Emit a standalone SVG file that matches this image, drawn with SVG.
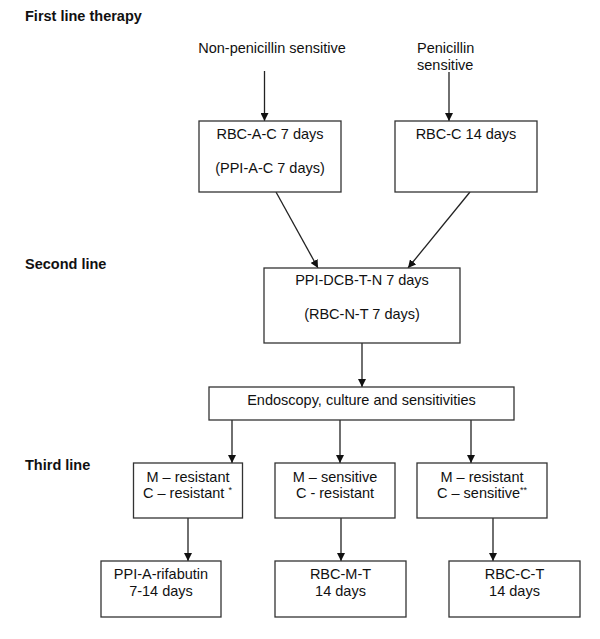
<svg xmlns="http://www.w3.org/2000/svg" width="600" height="639" viewBox="0 0 600 639">
<defs>
<marker id="arr" viewBox="0 0 10 10" refX="10" refY="5" markerWidth="8" markerHeight="8" markerUnits="userSpaceOnUse" orient="auto">
<path d="M0,0 L10,5 L0,10 z" fill="#111"/>
</marker>
<style>
text{font-family:"Liberation Sans",Arial,sans-serif;font-size:14.5px;fill:#111}
.h{font-weight:bold;font-size:14.5px}
.c{text-anchor:middle}
rect{fill:#fff;stroke:#333;stroke-width:1.3}
.con line{stroke:#222;stroke-width:1.3;marker-end:url(#arr)}
.sup{font-size:9px}
</style>
</defs>
<rect x="0" y="0" width="600" height="639" style="stroke:none;fill:#fff"/>
<text class="h" x="25" y="21">First line therapy</text>
<text class="h" x="25" y="269">Second line</text>
<text class="h" x="25" y="470">Third line</text>
<g id="src1"><text class="c" x="272" y="53">Non-penicillin sensitive</text></g>
<g id="src2"><text x="417" y="53">Penicillin</text><text x="417" y="70">sensitive</text></g>
<g class="con">
<line x1="264.5" y1="71" x2="264.5" y2="121"/>
<line x1="449" y1="72" x2="449" y2="121"/>
<line x1="276" y1="192" x2="318" y2="268"/>
<line x1="470" y1="192" x2="408" y2="268"/>
<line x1="362" y1="343" x2="362" y2="387"/>
<line x1="232" y1="420" x2="232" y2="463"/>
<line x1="340" y1="420" x2="340" y2="463"/>
<line x1="471" y1="420" x2="471" y2="463"/>
<line x1="188" y1="518" x2="188" y2="561"/>
<line x1="341" y1="518" x2="341" y2="561"/>
<line x1="493" y1="518" x2="493" y2="561"/>
</g>
<g id="n1"><rect x="199" y="121" width="142" height="71"/><text class="c" x="270" y="139">RBC-A-C 7 days</text><text class="c" x="270" y="173">(PPI-A-C 7 days)</text></g>
<g id="n2"><rect x="395" y="121" width="142" height="71"/><text class="c" x="466" y="139">RBC-C 14 days</text></g>
<g id="n3"><rect x="264" y="268" width="196" height="75"/><text class="c" x="362" y="285">PPI-DCB-T-N 7 days</text><text class="c" x="362" y="319">(RBC-N-T 7 days)</text></g>
<g id="n4"><rect x="209" y="387" width="305" height="33"/><text class="c" x="361.5" y="405">Endoscopy, culture and sensitivities</text></g>
<g id="n5"><rect x="133.5" y="463" width="109" height="55"/><text class="c" x="188" y="482">M – resistant</text><text x="143" y="498">C – resistant <tspan class="sup" dy="-5">*</tspan></text></g>
<g id="n6"><rect x="275" y="463" width="120" height="55"/><text class="c" x="335" y="482">M – sensitive</text><text class="c" x="335" y="498">C - resistant</text></g>
<g id="n7"><rect x="417" y="463" width="130" height="55"/><text class="c" x="482" y="482">M – resistant</text><text x="437" y="498">C – sensitive<tspan class="sup" dy="-5">**</tspan></text></g>
<g id="n8"><rect x="101" y="561" width="120" height="56"/><text class="c" x="161" y="579">PPI-A-rifabutin</text><text class="c" x="161" y="596">7-14 days</text></g>
<g id="n9"><rect x="275" y="561" width="131" height="56"/><text class="c" x="340.5" y="579">RBC-M-T</text><text class="c" x="340.5" y="596">14 days</text></g>
<g id="n10"><rect x="449" y="561" width="131" height="56"/><text class="c" x="514.5" y="579">RBC-C-T</text><text class="c" x="514.5" y="596">14 days</text></g>
</svg>
